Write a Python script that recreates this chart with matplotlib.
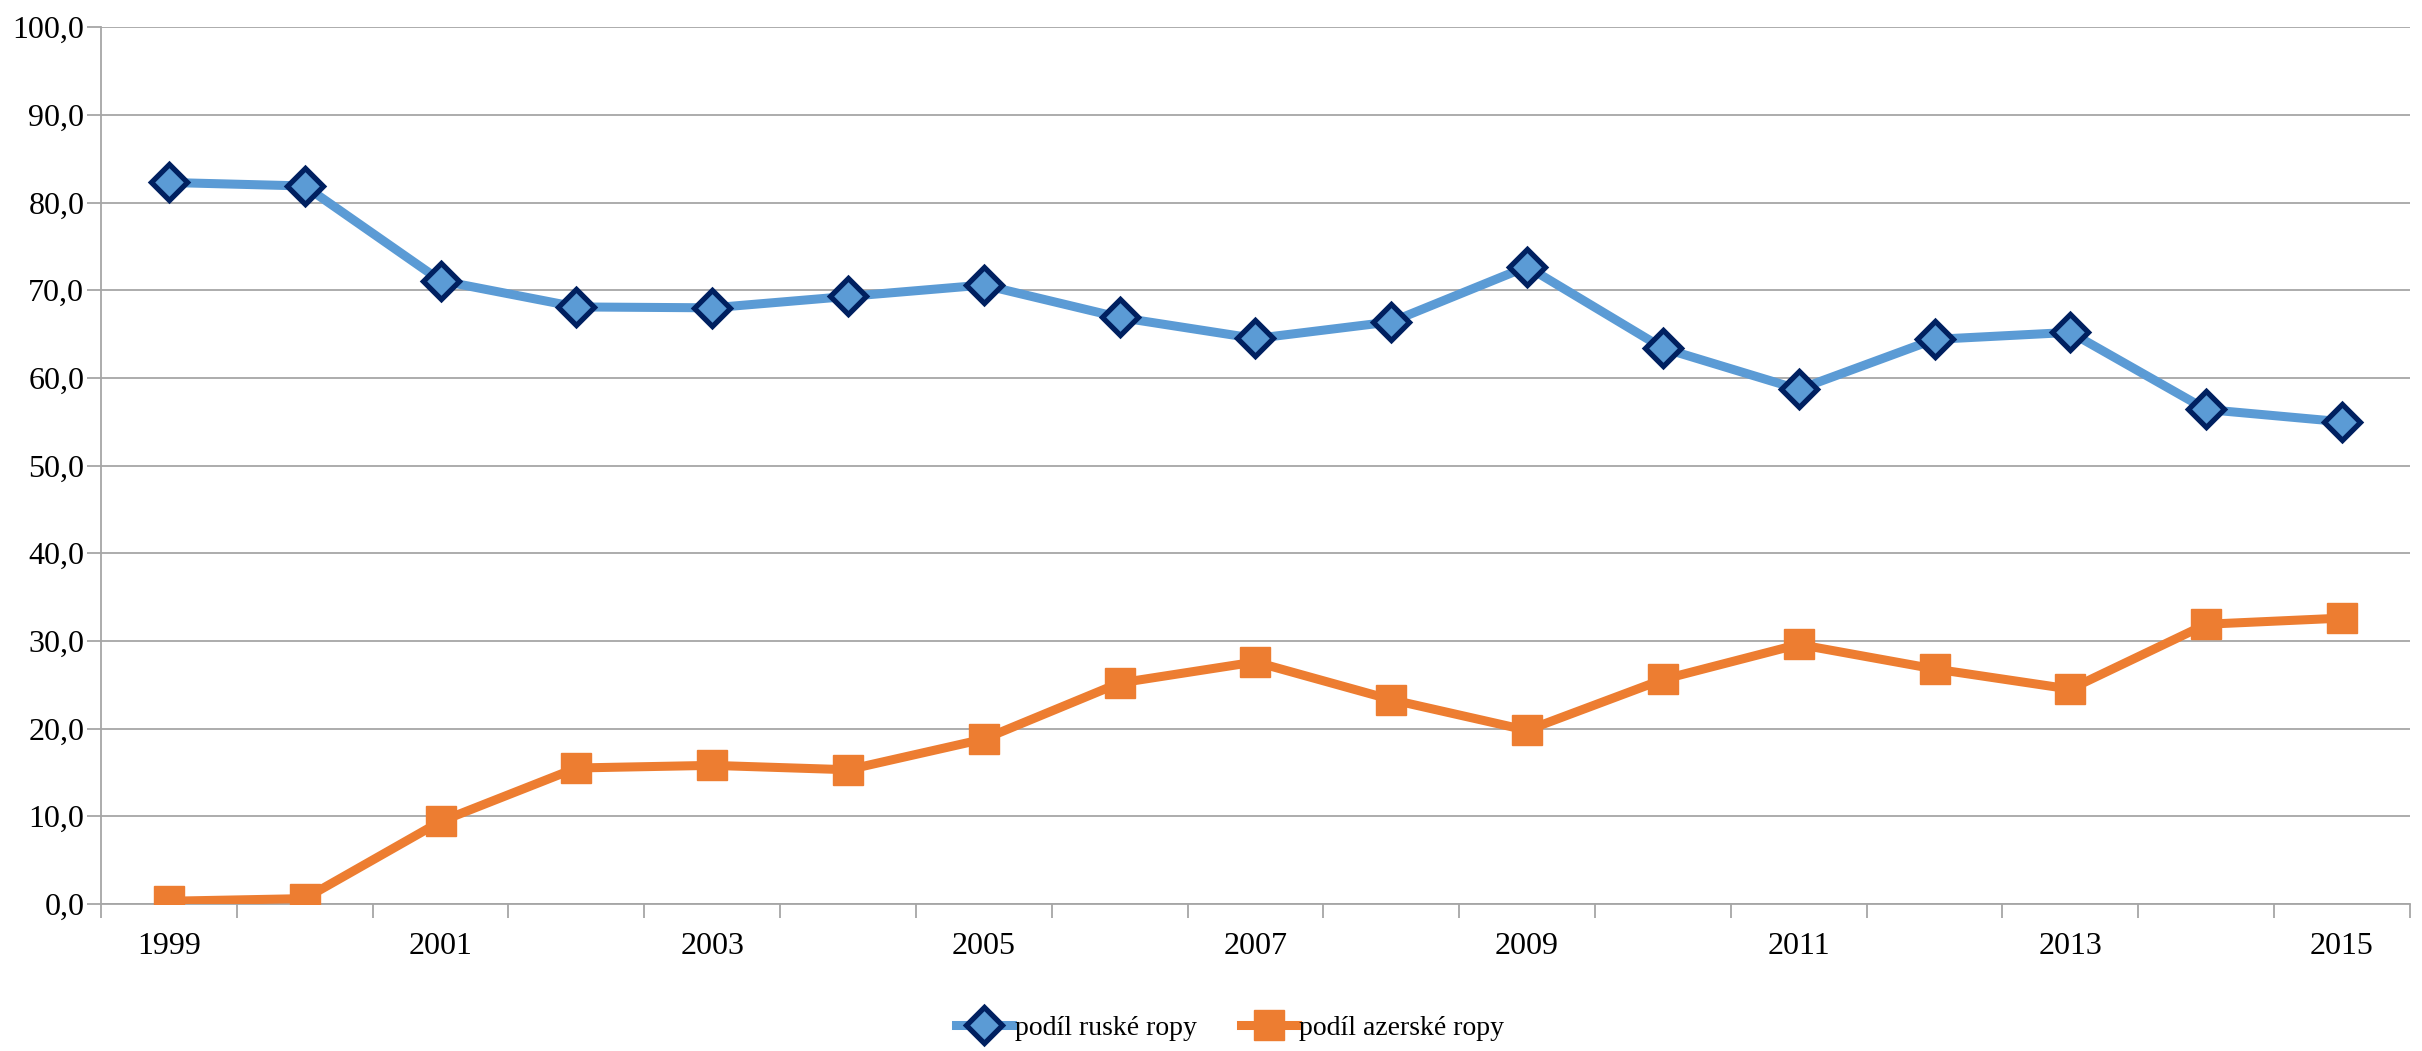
import matplotlib
matplotlib.use("Agg")
import matplotlib.pyplot as plt
from matplotlib.ticker import FuncFormatter, MultipleLocator
import numpy as np

years = list(range(1999, 2016))
ruska = [82.3, 81.9, 71.1, 68.1, 68.0, 69.3, 70.6, 66.9, 64.5, 66.4,
         72.7, 63.4, 58.7, 64.4, 65.2, 56.4, 55.0]
azerska = [0.3, 0.6, 9.4, 15.5, 15.8, 15.3, 18.8, 25.2, 27.6, 23.3,
           19.8, 25.6, 29.6, 26.8, 24.5, 31.9, 32.6]
labels = ["podíl ruské ropy", "podíl azerské ropy"]

FAMILY = "Liberation Serif"

fig = plt.figure(figsize=(24.22, 10.51), dpi=100)
ax = fig.add_axes([0.0417, 0.140, 0.9533, 0.834])

x = np.arange(len(years))
ax.plot(x, ruska, color="#5B9BD5", lw=6.5, marker="D", ms=18,
        mfc="#5B9BD5", mec="#002060", mew=3.8, label=labels[0], zorder=3)
ax.plot(x, azerska, color="#ED7D31", lw=6.5, marker="s", ms=22,
        mfc="#ED7D31", mec="#ED7D31", mew=1, label=labels[1], zorder=3)

ax.set_xlim(-0.5, len(years) - 0.5)
ax.set_ylim(0, 100)
ax.yaxis.set_major_locator(MultipleLocator(10))
ax.yaxis.set_major_formatter(FuncFormatter(lambda v, p: f"{v:.1f}".replace(".", ",")))
ax.grid(axis="y", color="#a6a6a6", lw=1.3)
ax.set_axisbelow(True)

ax.set_xticks(x[::2])
ax.set_xticklabels([str(y) for y in years[::2]])
ax.set_xticks(np.arange(-0.5, len(years)), minor=True)
ax.tick_params(axis="x", which="major", length=0, pad=20)
ax.tick_params(axis="x", which="minor", length=10, color="#a6a6a6", width=1.3)
ax.tick_params(axis="y", length=10, color="#a6a6a6", width=1.3, pad=2)

for s in ["top", "right"]:
    ax.spines[s].set_visible(False)
for s in ["left", "bottom"]:
    ax.spines[s].set_color("#a6a6a6")
    ax.spines[s].set_linewidth(1.3)

for lab in ax.get_xticklabels() + ax.get_yticklabels():
    lab.set_fontfamily(FAMILY)
    lab.set_fontsize(23)

leg = fig.legend(loc="center", bbox_to_anchor=(0.508, 0.022), ncol=2,
                 frameon=False, handlelength=2.0, handletextpad=0.1,
                 columnspacing=1.6, prop=dict(family=FAMILY, size=20))

fig.savefig("out.png", dpi=100)
